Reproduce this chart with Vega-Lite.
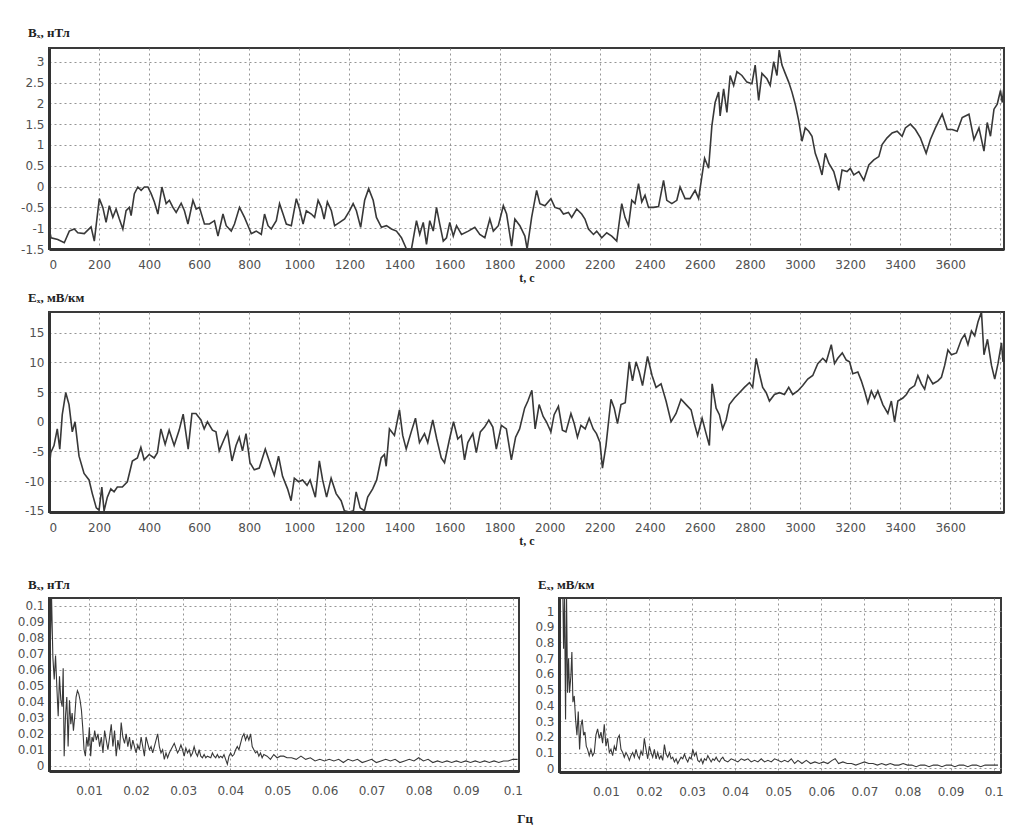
{
  "$schema": "https://vega.github.io/schema/vega-lite/v6.json",
  "padding": {"left": 12, "top": 26, "right": 5, "bottom": 2},
  "background": "white",
  "datasets": {
    "bx": [
      {"t":0,"v":-0.98},{"t":8,"v":-1.23},{"t":35,"v":-1.27},{"t":61,"v":-1.35},{"t":81,"v":-1.07},{"t":101,"v":-1.02},{"t":115,"v":-1.11},{"t":141,"v":-1.13},{"t":168,"v":-0.97},{"t":181,"v":-1.31},{"t":201,"v":-0.29},{"t":215,"v":-0.5},{"t":228,"v":-0.86},{"t":241,"v":-0.46},{"t":255,"v":-0.74},{"t":268,"v":-0.54},{"t":281,"v":-0.78},{"t":295,"v":-1.02},{"t":308,"v":-0.58},{"t":321,"v":-0.5},{"t":328,"v":-0.7},{"t":341,"v":-0.17},{"t":355,"v":-0.01},{"t":368,"v":-0.09},{"t":381,"v":-0.01},{"t":395,"v":-0.01},{"t":408,"v":-0.17},{"t":421,"v":-0.37},{"t":435,"v":-0.66},{"t":451,"v":-0.01},{"t":468,"v":-0.41},{"t":481,"v":-0.33},{"t":495,"v":-0.5},{"t":508,"v":-0.62},{"t":528,"v":-0.4},{"t":541,"v":-0.58},{"t":555,"v":-0.9},{"t":575,"v":-0.33},{"t":588,"v":-0.54},{"t":601,"v":-0.5},{"t":621,"v":-0.9},{"t":641,"v":-0.9},{"t":661,"v":-0.82},{"t":675,"v":-1.19},{"t":695,"v":-0.66},{"t":708,"v":-0.94},{"t":728,"v":-1.07},{"t":741,"v":-0.9},{"t":761,"v":-0.5},{"t":781,"v":-0.74},{"t":795,"v":-0.94},{"t":808,"v":-1.13},{"t":828,"v":-1.07},{"t":848,"v":-1.15},{"t":861,"v":-0.66},{"t":875,"v":-0.94},{"t":888,"v":-1.02},{"t":908,"v":-0.82},{"t":921,"v":-0.41},{"t":935,"v":-0.66},{"t":948,"v":-0.9},{"t":968,"v":-0.94},{"t":988,"v":-0.29},{"t":1001,"v":-0.54},{"t":1015,"v":-0.9},{"t":1028,"v":-0.58},{"t":1048,"v":-0.66},{"t":1061,"v":-0.74},{"t":1075,"v":-0.33},{"t":1088,"v":-0.5},{"t":1099,"v":-0.78},{"t":1112,"v":-0.37},{"t":1128,"v":-0.58},{"t":1141,"v":-0.94},{"t":1161,"v":-0.86},{"t":1181,"v":-0.78},{"t":1201,"v":-0.58},{"t":1215,"v":-0.41},{"t":1228,"v":-0.58},{"t":1245,"v":-0.98},{"t":1261,"v":-0.33},{"t":1277,"v":-0.05},{"t":1295,"v":-0.33},{"t":1308,"v":-0.74},{"t":1328,"v":-0.98},{"t":1348,"v":-0.94},{"t":1368,"v":-1.02},{"t":1388,"v":-1.07},{"t":1408,"v":-1.23},{"t":1428,"v":-1.5},{"t":1448,"v":-1.5},{"t":1468,"v":-0.82},{"t":1481,"v":-1.15},{"t":1495,"v":-0.86},{"t":1508,"v":-1.39},{"t":1521,"v":-0.82},{"t":1535,"v":-1.07},{"t":1548,"v":-0.5},{"t":1561,"v":-0.9},{"t":1575,"v":-1.31},{"t":1588,"v":-1.23},{"t":1601,"v":-0.86},{"t":1615,"v":-1.19},{"t":1628,"v":-0.94},{"t":1648,"v":-1.15},{"t":1675,"v":-1.07},{"t":1701,"v":-0.98},{"t":1721,"v":-1.15},{"t":1741,"v":-1.23},{"t":1761,"v":-0.78},{"t":1775,"v":-1.07},{"t":1795,"v":-0.94},{"t":1815,"v":-0.46},{"t":1828,"v":-0.66},{"t":1848,"v":-1.43},{"t":1861,"v":-0.78},{"t":1881,"v":-0.94},{"t":1901,"v":-1.19},{"t":1910,"v":-1.5},{"t":1928,"v":-0.74},{"t":1948,"v":-0.09},{"t":1961,"v":-0.41},{"t":1981,"v":-0.46},{"t":2005,"v":-0.29},{"t":2021,"v":-0.5},{"t":2041,"v":-0.54},{"t":2055,"v":-0.66},{"t":2075,"v":-0.62},{"t":2088,"v":-0.74},{"t":2108,"v":-0.54},{"t":2128,"v":-0.66},{"t":2141,"v":-0.78},{"t":2155,"v":-1.02},{"t":2175,"v":-1.15},{"t":2188,"v":-1.07},{"t":2208,"v":-1.23},{"t":2228,"v":-1.11},{"t":2248,"v":-1.19},{"t":2268,"v":-1.31},{"t":2288,"v":-0.41},{"t":2301,"v":-0.74},{"t":2315,"v":-0.94},{"t":2328,"v":-0.33},{"t":2341,"v":-0.41},{"t":2355,"v":0.07},{"t":2368,"v":-0.37},{"t":2381,"v":-0.21},{"t":2395,"v":-0.5},{"t":2415,"v":-0.5},{"t":2435,"v":-0.48},{"t":2455,"v":0.15},{"t":2468,"v":-0.33},{"t":2488,"v":-0.41},{"t":2508,"v":-0.33},{"t":2521,"v":-0.01},{"t":2541,"v":-0.29},{"t":2561,"v":-0.29},{"t":2581,"v":-0.09},{"t":2595,"v":-0.29},{"t":2608,"v":0.24},{"t":2619,"v":0.68},{"t":2635,"v":0.44},{"t":2648,"v":1.46},{"t":2661,"v":2.02},{"t":2675,"v":2.27},{"t":2681,"v":1.7},{"t":2695,"v":2.35},{"t":2708,"v":1.78},{"t":2721,"v":2.67},{"t":2735,"v":2.43},{"t":2748,"v":2.76},{"t":2768,"v":2.67},{"t":2788,"v":2.51},{"t":2808,"v":2.47},{"t":2821,"v":2.92},{"t":2835,"v":2.07},{"t":2848,"v":2.72},{"t":2868,"v":2.59},{"t":2881,"v":2.43},{"t":2895,"v":3.0},{"t":2908,"v":2.67},{"t":2917,"v":3.28},{"t":2928,"v":2.92},{"t":2941,"v":2.72},{"t":2955,"v":2.51},{"t":2968,"v":2.27},{"t":2981,"v":1.98},{"t":2995,"v":1.58},{"t":3008,"v":1.09},{"t":3021,"v":1.41},{"t":3035,"v":1.33},{"t":3048,"v":1.21},{"t":3061,"v":0.8},{"t":3075,"v":0.56},{"t":3088,"v":0.28},{"t":3101,"v":0.8},{"t":3115,"v":0.56},{"t":3135,"v":0.36},{"t":3155,"v":-0.09},{"t":3168,"v":0.4},{"t":3188,"v":0.36},{"t":3201,"v":0.44},{"t":3215,"v":0.28},{"t":3235,"v":0.36},{"t":3255,"v":0.15},{"t":3275,"v":0.52},{"t":3295,"v":0.64},{"t":3315,"v":0.72},{"t":3328,"v":1.01},{"t":3348,"v":1.17},{"t":3368,"v":1.29},{"t":3388,"v":1.33},{"t":3408,"v":1.21},{"t":3421,"v":1.41},{"t":3441,"v":1.5},{"t":3461,"v":1.37},{"t":3481,"v":1.17},{"t":3504,"v":0.8},{"t":3521,"v":1.13},{"t":3541,"v":1.41},{"t":3568,"v":1.74},{"t":3588,"v":1.37},{"t":3608,"v":1.37},{"t":3628,"v":1.33},{"t":3648,"v":1.66},{"t":3675,"v":1.74},{"t":3695,"v":1.13},{"t":3715,"v":1.41},{"t":3735,"v":0.85},{"t":3748,"v":1.54},{"t":3761,"v":1.21},{"t":3775,"v":1.86},{"t":3788,"v":1.98},{"t":3801,"v":2.31},{"t":3808,"v":2.02},{"t":3815,"v":2.39}
    ],
    "ex": [
      {"t":0,"v":-8.4},{"t":7,"v":-5.2},{"t":20,"v":-4.0},{"t":33,"v":-1.2},{"t":43,"v":-4.6},{"t":53,"v":1.2},{"t":67,"v":4.9},{"t":80,"v":2.9},{"t":93,"v":-1.7},{"t":104,"v":0},{"t":120,"v":-5.8},{"t":140,"v":-8.7},{"t":160,"v":-9.8},{"t":173,"v":-12.1},{"t":189,"v":-14.5},{"t":200,"v":-14.9},{"t":211,"v":-11.0},{"t":220,"v":-15.0},{"t":233,"v":-12.7},{"t":247,"v":-11.3},{"t":260,"v":-11.8},{"t":273,"v":-11.0},{"t":293,"v":-11.0},{"t":313,"v":-10.1},{"t":333,"v":-6.6},{"t":353,"v":-6.1},{"t":367,"v":-4.3},{"t":380,"v":-6.4},{"t":400,"v":-5.5},{"t":420,"v":-6.1},{"t":433,"v":-5.2},{"t":447,"v":-1.2},{"t":464,"v":-3.8},{"t":480,"v":-1.4},{"t":500,"v":-4.0},{"t":520,"v":-1.4},{"t":536,"v":1.3},{"t":556,"v":-4.6},{"t":571,"v":1.4},{"t":587,"v":1.4},{"t":607,"v":0.3},{"t":620,"v":-1.2},{"t":633,"v":0},{"t":653,"v":-1.4},{"t":667,"v":-1.7},{"t":680,"v":-4.9},{"t":700,"v":-2.9},{"t":713,"v":-1.7},{"t":731,"v":-6.6},{"t":747,"v":-4.0},{"t":760,"v":-2.6},{"t":773,"v":-4.9},{"t":787,"v":-2.0},{"t":803,"v":-6.9},{"t":820,"v":-8.1},{"t":840,"v":-7.8},{"t":864,"v":-4.6},{"t":887,"v":-7.5},{"t":900,"v":-9.0},{"t":917,"v":-5.8},{"t":933,"v":-9.2},{"t":953,"v":-11.3},{"t":967,"v":-13.3},{"t":980,"v":-9.5},{"t":997,"v":-10.1},{"t":1013,"v":-9.8},{"t":1031,"v":-10.7},{"t":1043,"v":-9.8},{"t":1064,"v":-12.7},{"t":1080,"v":-6.6},{"t":1093,"v":-9.8},{"t":1109,"v":-12.7},{"t":1127,"v":-9.5},{"t":1147,"v":-12.1},{"t":1167,"v":-13.3},{"t":1180,"v":-15.0},{"t":1200,"v":-15.2},{"t":1216,"v":-15.0},{"t":1227,"v":-11.8},{"t":1243,"v":-14.5},{"t":1260,"v":-15.0},{"t":1273,"v":-12.7},{"t":1293,"v":-11.3},{"t":1309,"v":-9.8},{"t":1327,"v":-6.1},{"t":1340,"v":-5.5},{"t":1347,"v":-7.5},{"t":1360,"v":-1.2},{"t":1380,"v":-2.3},{"t":1400,"v":2.0},{"t":1413,"v":-2.3},{"t":1427,"v":-4.6},{"t":1447,"v":-1.7},{"t":1464,"v":0.6},{"t":1480,"v":-3.5},{"t":1500,"v":-2.0},{"t":1513,"v":-3.5},{"t":1533,"v":0.3},{"t":1549,"v":-2.9},{"t":1567,"v":-6.1},{"t":1580,"v":-6.9},{"t":1600,"v":-2.9},{"t":1616,"v":0},{"t":1633,"v":-2.9},{"t":1647,"v":-2.3},{"t":1660,"v":-6.4},{"t":1673,"v":-3.5},{"t":1693,"v":-2.0},{"t":1707,"v":-5.2},{"t":1723,"v":-1.7},{"t":1740,"v":-0.9},{"t":1757,"v":0.3},{"t":1773,"v":-0.9},{"t":1787,"v":-4.6},{"t":1807,"v":-0.6},{"t":1827,"v":-1.2},{"t":1847,"v":-6.4},{"t":1864,"v":-2.6},{"t":1880,"v":-1.2},{"t":1900,"v":2.3},{"t":1913,"v":3.5},{"t":1929,"v":5.3},{"t":1942,"v":-1.2},{"t":1958,"v":2.9},{"t":1974,"v":0.9},{"t":1987,"v":0},{"t":2005,"v":-1.7},{"t":2018,"v":1.2},{"t":2035,"v":2.6},{"t":2051,"v":-1.4},{"t":2065,"v":-1.7},{"t":2085,"v":1.4},{"t":2098,"v":-0.3},{"t":2111,"v":-2.6},{"t":2125,"v":-0.6},{"t":2142,"v":-1.2},{"t":2158,"v":0.6},{"t":2174,"v":-1.2},{"t":2187,"v":-2.0},{"t":2201,"v":-3.5},{"t":2211,"v":-7.8},{"t":2225,"v":-4.0},{"t":2245,"v":3.8},{"t":2258,"v":2.3},{"t":2271,"v":-0.3},{"t":2285,"v":2.9},{"t":2302,"v":3.2},{"t":2318,"v":10.1},{"t":2331,"v":6.9},{"t":2345,"v":10.1},{"t":2358,"v":8.4},{"t":2371,"v":6.1},{"t":2391,"v":11.0},{"t":2409,"v":7.8},{"t":2425,"v":5.8},{"t":2445,"v":6.4},{"t":2465,"v":3.5},{"t":2485,"v":0},{"t":2505,"v":1.4},{"t":2525,"v":3.8},{"t":2545,"v":2.9},{"t":2565,"v":2.0},{"t":2578,"v":-0.3},{"t":2591,"v":-2.3},{"t":2609,"v":0.6},{"t":2625,"v":-2.0},{"t":2638,"v":-4.0},{"t":2649,"v":6.4},{"t":2665,"v":2.3},{"t":2678,"v":1.2},{"t":2691,"v":-1.2},{"t":2705,"v":0.3},{"t":2718,"v":2.9},{"t":2738,"v":4.0},{"t":2758,"v":4.9},{"t":2778,"v":5.8},{"t":2798,"v":6.6},{"t":2811,"v":5.8},{"t":2825,"v":10.7},{"t":2838,"v":8.1},{"t":2851,"v":5.8},{"t":2865,"v":4.9},{"t":2878,"v":3.5},{"t":2898,"v":4.6},{"t":2918,"v":4.9},{"t":2938,"v":4.6},{"t":2955,"v":5.8},{"t":2971,"v":4.6},{"t":2991,"v":5.2},{"t":3011,"v":6.1},{"t":3031,"v":7.2},{"t":3051,"v":7.8},{"t":3071,"v":9.8},{"t":3091,"v":10.7},{"t":3105,"v":10.1},{"t":3125,"v":13.0},{"t":3138,"v":9.8},{"t":3151,"v":10.7},{"t":3169,"v":11.6},{"t":3185,"v":10.4},{"t":3198,"v":10.1},{"t":3211,"v":8.1},{"t":3231,"v":8.4},{"t":3245,"v":6.9},{"t":3258,"v":5.2},{"t":3271,"v":3.2},{"t":3285,"v":5.2},{"t":3298,"v":4.0},{"t":3311,"v":5.2},{"t":3331,"v":2.9},{"t":3351,"v":1.4},{"t":3365,"v":3.5},{"t":3378,"v":0},{"t":3391,"v":3.5},{"t":3411,"v":4.0},{"t":3425,"v":4.6},{"t":3438,"v":5.5},{"t":3458,"v":6.1},{"t":3471,"v":7.8},{"t":3485,"v":6.4},{"t":3498,"v":5.5},{"t":3511,"v":7.8},{"t":3531,"v":6.4},{"t":3551,"v":6.9},{"t":3565,"v":7.5},{"t":3578,"v":9.5},{"t":3591,"v":12.1},{"t":3605,"v":11.3},{"t":3625,"v":11.6},{"t":3645,"v":13.9},{"t":3658,"v":14.7},{"t":3671,"v":13.0},{"t":3685,"v":15.3},{"t":3698,"v":14.5},{"t":3711,"v":16.8},{"t":3725,"v":18.5},{"t":3735,"v":11.3},{"t":3749,"v":13.9},{"t":3765,"v":9.5},{"t":3778,"v":7.2},{"t":3791,"v":9.8},{"t":3805,"v":13.3},{"t":3811,"v":10.1}
    ],
    "bxs": [
      {"f":0.00148,"v":0.106},{"f":0.00176,"v":0.072},{"f":0.00204,"v":0.106},{"f":0.00232,"v":0.068},{"f":0.00261,"v":0.054},{"f":0.00289,"v":0.069},{"f":0.00317,"v":0.049},{"f":0.00345,"v":0.031},{"f":0.00373,"v":0.056},{"f":0.00401,"v":0.041},{"f":0.0043,"v":0.037},{"f":0.00451,"v":0.061},{"f":0.00472,"v":0.006},{"f":0.005,"v":0.031},{"f":0.00528,"v":0.043},{"f":0.00556,"v":0.012},{"f":0.00585,"v":0.041},{"f":0.00613,"v":0.026},{"f":0.00641,"v":0.033},{"f":0.00669,"v":0.022},{"f":0.00697,"v":0.031},{"f":0.00725,"v":0.043},{"f":0.00754,"v":0.047},{"f":0.00782,"v":0.045},{"f":0.0081,"v":0.041},{"f":0.00838,"v":0.035},{"f":0.00866,"v":0.024},{"f":0.00894,"v":0.01},{"f":0.00923,"v":0.006},{"f":0.00951,"v":0.018},{"f":0.00979,"v":0.012},{"f":0.01007,"v":0.024},{"f":0.01035,"v":0.006},{"f":0.01063,"v":0.018},{"f":0.01092,"v":0.015},{"f":0.0112,"v":0.022},{"f":0.01155,"v":0.016},{"f":0.0119,"v":0.02},{"f":0.01225,"v":0.012},{"f":0.01261,"v":0.018},{"f":0.01296,"v":0.008},{"f":0.01331,"v":0.022},{"f":0.01366,"v":0.016},{"f":0.01401,"v":0.01},{"f":0.01437,"v":0.018},{"f":0.01472,"v":0.026},{"f":0.01507,"v":0.012},{"f":0.01542,"v":0.022},{"f":0.01577,"v":0.006},{"f":0.01613,"v":0.016},{"f":0.01648,"v":0.01},{"f":0.01683,"v":0.027},{"f":0.01718,"v":0.018},{"f":0.01754,"v":0.014},{"f":0.01789,"v":0.02},{"f":0.01824,"v":0.012},{"f":0.01859,"v":0.018},{"f":0.01894,"v":0.01},{"f":0.0193,"v":0.016},{"f":0.01965,"v":0.012},{"f":0.02,"v":0.008},{"f":0.02035,"v":0.013},{"f":0.0207,"v":0.01},{"f":0.02106,"v":0.018},{"f":0.02141,"v":0.012},{"f":0.02176,"v":0.006},{"f":0.02211,"v":0.018},{"f":0.02246,"v":0.014},{"f":0.02282,"v":0.01},{"f":0.02317,"v":0.012},{"f":0.02352,"v":0.008},{"f":0.02387,"v":0.012},{"f":0.02423,"v":0.016},{"f":0.02458,"v":0.02},{"f":0.02493,"v":0.012},{"f":0.02528,"v":0.008},{"f":0.02563,"v":0.01},{"f":0.02599,"v":0.004},{"f":0.02634,"v":0.008},{"f":0.02669,"v":0.005},{"f":0.02704,"v":0.008},{"f":0.02739,"v":0.01},{"f":0.02775,"v":0.012},{"f":0.0281,"v":0.014},{"f":0.02845,"v":0.011},{"f":0.0288,"v":0.008},{"f":0.02915,"v":0.01},{"f":0.02951,"v":0.013},{"f":0.02986,"v":0.01},{"f":0.03021,"v":0.006},{"f":0.03056,"v":0.011},{"f":0.03092,"v":0.008},{"f":0.03127,"v":0.01},{"f":0.03162,"v":0.006},{"f":0.03197,"v":0.008},{"f":0.03232,"v":0.012},{"f":0.03268,"v":0.008},{"f":0.03303,"v":0.006},{"f":0.03338,"v":0.01},{"f":0.03373,"v":0.006},{"f":0.03408,"v":0.005},{"f":0.03444,"v":0.007},{"f":0.03479,"v":0.005},{"f":0.03514,"v":0.006},{"f":0.03585,"v":0.005},{"f":0.0362,"v":0.008},{"f":0.03655,"v":0.006},{"f":0.0369,"v":0.005},{"f":0.03725,"v":0.007},{"f":0.03761,"v":0.005},{"f":0.03796,"v":0.006},{"f":0.03831,"v":0.005},{"f":0.03866,"v":0.007},{"f":0.03901,"v":0.004},{"f":0.03937,"v":0.001},{"f":0.03972,"v":0.006},{"f":0.04007,"v":0.008},{"f":0.04042,"v":0.006},{"f":0.04077,"v":0.007},{"f":0.04113,"v":0.01},{"f":0.04148,"v":0.012},{"f":0.04183,"v":0.01},{"f":0.04218,"v":0.014},{"f":0.04254,"v":0.018},{"f":0.04289,"v":0.02},{"f":0.04324,"v":0.016},{"f":0.04359,"v":0.019},{"f":0.04394,"v":0.016},{"f":0.0443,"v":0.02},{"f":0.04465,"v":0.012},{"f":0.045,"v":0.01},{"f":0.04535,"v":0.008},{"f":0.0457,"v":0.009},{"f":0.04606,"v":0.006},{"f":0.04641,"v":0.008},{"f":0.04676,"v":0.005},{"f":0.04711,"v":0.007},{"f":0.04782,"v":0.006},{"f":0.04852,"v":0.004},{"f":0.04923,"v":0.007},{"f":0.04993,"v":0.005},{"f":0.05063,"v":0.006},{"f":0.05134,"v":0.006},{"f":0.05204,"v":0.005},{"f":0.053,"v":0.005},{"f":0.054,"v":0.004},{"f":0.055,"v":0.006},{"f":0.056,"v":0.004},{"f":0.057,"v":0.005},{"f":0.058,"v":0.003},{"f":0.059,"v":0.004},{"f":0.06,"v":0.003},{"f":0.061,"v":0.004},{"f":0.062,"v":0.003},{"f":0.063,"v":0.004},{"f":0.064,"v":0.002},{"f":0.065,"v":0.004},{"f":0.066,"v":0.003},{"f":0.067,"v":0.004},{"f":0.068,"v":0.002},{"f":0.069,"v":0.003},{"f":0.07,"v":0.004},{"f":0.071,"v":0.002},{"f":0.072,"v":0.003},{"f":0.073,"v":0.004},{"f":0.074,"v":0.003},{"f":0.075,"v":0.004},{"f":0.076,"v":0.002},{"f":0.077,"v":0.003},{"f":0.078,"v":0.004},{"f":0.079,"v":0.003},{"f":0.08,"v":0.005},{"f":0.081,"v":0.003},{"f":0.082,"v":0.004},{"f":0.083,"v":0.002},{"f":0.084,"v":0.003},{"f":0.085,"v":0.002},{"f":0.086,"v":0.003},{"f":0.087,"v":0.002},{"f":0.088,"v":0.003},{"f":0.089,"v":0.002},{"f":0.09,"v":0.003},{"f":0.091,"v":0.002},{"f":0.092,"v":0.003},{"f":0.093,"v":0.002},{"f":0.094,"v":0.003},{"f":0.095,"v":0.002},{"f":0.096,"v":0.003},{"f":0.097,"v":0.002},{"f":0.098,"v":0.003},{"f":0.099,"v":0.003},{"f":0.1,"v":0.004},{"f":0.101,"v":0.004}
    ],
    "exs": [
      {"f":0.0,"v":1.1},{"f":0.00016,"v":0.76},{"f":0.00039,"v":1.1},{"f":0.00062,"v":0.31},{"f":0.00085,"v":1.1},{"f":0.00109,"v":0.48},{"f":0.00132,"v":0.7},{"f":0.00155,"v":0.48},{"f":0.00186,"v":0.59},{"f":0.00209,"v":0.74},{"f":0.00233,"v":0.42},{"f":0.00264,"v":0.46},{"f":0.00295,"v":0.31},{"f":0.00326,"v":0.21},{"f":0.00357,"v":0.36},{"f":0.00388,"v":0.12},{"f":0.00419,"v":0.27},{"f":0.0045,"v":0.31},{"f":0.00481,"v":0.21},{"f":0.00512,"v":0.23},{"f":0.00543,"v":0.14},{"f":0.00574,"v":0.12},{"f":0.00612,"v":0.08},{"f":0.00651,"v":0.12},{"f":0.0069,"v":0.08},{"f":0.00729,"v":0.1},{"f":0.00767,"v":0.21},{"f":0.00806,"v":0.25},{"f":0.00845,"v":0.19},{"f":0.00884,"v":0.23},{"f":0.00922,"v":0.16},{"f":0.00961,"v":0.28},{"f":0.01,"v":0.14},{"f":0.01039,"v":0.19},{"f":0.01078,"v":0.1},{"f":0.01116,"v":0.12},{"f":0.01155,"v":0.08},{"f":0.01194,"v":0.14},{"f":0.01233,"v":0.11},{"f":0.01271,"v":0.19},{"f":0.0131,"v":0.21},{"f":0.01349,"v":0.12},{"f":0.01388,"v":0.1},{"f":0.01426,"v":0.07},{"f":0.01465,"v":0.1},{"f":0.01504,"v":0.08},{"f":0.01543,"v":0.05},{"f":0.01581,"v":0.08},{"f":0.0162,"v":0.1},{"f":0.01659,"v":0.07},{"f":0.01698,"v":0.12},{"f":0.01736,"v":0.08},{"f":0.01775,"v":0.06},{"f":0.01814,"v":0.11},{"f":0.01853,"v":0.08},{"f":0.01891,"v":0.19},{"f":0.0193,"v":0.12},{"f":0.01969,"v":0.06},{"f":0.02008,"v":0.14},{"f":0.02047,"v":0.1},{"f":0.02085,"v":0.07},{"f":0.02124,"v":0.12},{"f":0.02163,"v":0.06},{"f":0.02202,"v":0.1},{"f":0.0224,"v":0.06},{"f":0.02279,"v":0.08},{"f":0.02318,"v":0.05},{"f":0.02357,"v":0.15},{"f":0.02395,"v":0.09},{"f":0.02434,"v":0.07},{"f":0.02473,"v":0.1},{"f":0.02512,"v":0.06},{"f":0.0255,"v":0.07},{"f":0.02589,"v":0.04},{"f":0.02628,"v":0.06},{"f":0.02667,"v":0.03},{"f":0.02705,"v":0.05},{"f":0.02744,"v":0.07},{"f":0.02783,"v":0.06},{"f":0.02822,"v":0.09},{"f":0.0286,"v":0.06},{"f":0.02899,"v":0.04},{"f":0.02938,"v":0.07},{"f":0.02977,"v":0.06},{"f":0.03016,"v":0.12},{"f":0.03054,"v":0.08},{"f":0.03093,"v":0.1},{"f":0.03132,"v":0.05},{"f":0.03171,"v":0.04},{"f":0.03209,"v":0.06},{"f":0.03248,"v":0.03},{"f":0.03287,"v":0.06},{"f":0.03326,"v":0.05},{"f":0.03364,"v":0.08},{"f":0.03403,"v":0.06},{"f":0.03442,"v":0.04},{"f":0.03481,"v":0.06},{"f":0.03519,"v":0.05},{"f":0.03558,"v":0.07},{"f":0.03597,"v":0.05},{"f":0.03636,"v":0.04},{"f":0.03674,"v":0.06},{"f":0.03713,"v":0.07},{"f":0.03752,"v":0.05},{"f":0.03829,"v":0.04},{"f":0.03907,"v":0.06},{"f":0.03984,"v":0.05},{"f":0.04062,"v":0.04},{"f":0.0414,"v":0.06},{"f":0.04217,"v":0.05},{"f":0.04295,"v":0.06},{"f":0.04372,"v":0.04},{"f":0.0445,"v":0.05},{"f":0.04527,"v":0.04},{"f":0.04605,"v":0.06},{"f":0.04682,"v":0.04},{"f":0.0476,"v":0.05},{"f":0.04837,"v":0.04},{"f":0.04915,"v":0.06},{"f":0.04992,"v":0.05},{"f":0.0507,"v":0.04},{"f":0.05147,"v":0.05},{"f":0.05225,"v":0.04},{"f":0.05302,"v":0.06},{"f":0.0538,"v":0.03},{"f":0.05457,"v":0.05},{"f":0.0555,"v":0.03},{"f":0.0565,"v":0.05},{"f":0.0575,"v":0.03},{"f":0.0585,"v":0.04},{"f":0.0595,"v":0.03},{"f":0.0605,"v":0.04},{"f":0.0615,"v":0.03},{"f":0.0625,"v":0.05},{"f":0.0632,"v":0.06},{"f":0.064,"v":0.03},{"f":0.065,"v":0.04},{"f":0.066,"v":0.03},{"f":0.067,"v":0.03},{"f":0.068,"v":0.02},{"f":0.069,"v":0.03},{"f":0.07,"v":0.04},{"f":0.071,"v":0.03},{"f":0.072,"v":0.03},{"f":0.073,"v":0.02},{"f":0.074,"v":0.03},{"f":0.075,"v":0.02},{"f":0.076,"v":0.03},{"f":0.077,"v":0.02},{"f":0.078,"v":0.02},{"f":0.079,"v":0.03},{"f":0.08,"v":0.02},{"f":0.081,"v":0.02},{"f":0.082,"v":0.01},{"f":0.083,"v":0.02},{"f":0.084,"v":0.02},{"f":0.085,"v":0.01},{"f":0.086,"v":0.02},{"f":0.087,"v":0.02},{"f":0.088,"v":0.01},{"f":0.089,"v":0.02},{"f":0.09,"v":0.02},{"f":0.091,"v":0.01},{"f":0.092,"v":0.02},{"f":0.093,"v":0.02},{"f":0.094,"v":0.01},{"f":0.095,"v":0.02},{"f":0.096,"v":0.02},{"f":0.097,"v":0.01},{"f":0.098,"v":0.02},{"f":0.099,"v":0.02},{"f":0.1,"v":0.02},{"f":0.101,"v":0.02}
    ]
  },
  "vconcat": [
    {
      "spacing": 7,
      "vconcat": [
        {
          "width": 955, "height": 201,
          "title": {"text": "Bₓ, нТл", "dx": 15, "offset": 8},
          "data": {"name": "bx"},
          "mark": {"type": "line", "color": "#383838", "strokeWidth": 1.6, "clip": true},
          "encoding": {
            "x": {"field": "t", "type": "quantitative", "scale": {"domain": [0, 3815], "nice": false, "zero": false},
                  "axis": {"title": "t, с", "titlePadding": 2, "values": [0,200,400,600,800,1000,1200,1400,1600,1800,2000,2200,2400,2600,2800,3000,3200,3400,3600,3800], "format": "d", "labelExpr": "datum.value == 3800 ? '' : datum.label"}},
            "y": {"field": "v", "type": "quantitative", "scale": {"domain": [-1.5, 3.33], "nice": false, "zero": false},
                  "axis": {"title": null, "values": [-1.5,-1,-0.5,0,0.5,1,1.5,2,2.5,3], "labelExpr": "datum.value < 0 ? '-' + format(-datum.value, '~g') : format(datum.value, '~g')", "minExtent": 36, "maxExtent": 36}}
          }
        },
        {
          "width": 955, "height": 200,
          "title": {"text": "Eₓ, мВ/км", "dx": 15, "offset": 7},
          "data": {"name": "ex"},
          "mark": {"type": "line", "color": "#383838", "strokeWidth": 1.6, "clip": true},
          "encoding": {
            "x": {"field": "t", "type": "quantitative", "scale": {"domain": [0, 3815], "nice": false, "zero": false},
                  "axis": {"title": "t, с", "titlePadding": 2, "values": [0,200,400,600,800,1000,1200,1400,1600,1800,2000,2200,2400,2600,2800,3000,3200,3400,3600,3800], "format": "d", "labelExpr": "datum.value == 3800 ? '' : datum.label"}},
            "y": {"field": "v", "type": "quantitative", "scale": {"domain": [-15.2, 18.5], "nice": false, "zero": false},
                  "axis": {"title": null, "values": [-15,-10,-5,0,5,10,15], "labelExpr": "datum.value < 0 ? '-' + format(-datum.value, '~g') : format(datum.value, '~g')", "minExtent": 36, "maxExtent": 36}}
          }
        }
      ]
    },
    {
      "hconcat": [
        {
          "width": 470, "height": 173,
          "title": {"text": "Bₓ, нТл", "dx": 15, "offset": 6},
          "data": {"name": "bxs"},
          "mark": {"type": "line", "color": "#383838", "strokeWidth": 1.1, "clip": true},
          "encoding": {
            "x": {"field": "f", "type": "quantitative", "scale": {"domain": [0.0015, 0.1013], "nice": false, "zero": false},
                  "axis": {"title": null, "labelPadding": 14, "values": [0.01,0.02,0.03,0.04,0.05,0.06,0.07,0.08,0.09,0.1], "format": "~g"}},
            "y": {"field": "v", "type": "quantitative", "scale": {"domain": [-0.0033, 0.105], "nice": false, "zero": false},
                  "axis": {"title": null, "values": [0,0.01,0.02,0.03,0.04,0.05,0.06,0.07,0.08,0.09,0.1], "format": "~g", "minExtent": 36, "maxExtent": 36}}
          }
        },
        {
          "width": 442, "height": 174,
          "title": {"text": "Eₓ, мВ/км", "dx": 13, "offset": 6},
          "data": {"name": "exs"},
          "mark": {"type": "line", "color": "#383838", "strokeWidth": 1.1, "clip": true},
          "encoding": {
            "x": {"field": "f", "type": "quantitative", "scale": {"domain": [-0.0009, 0.1017], "nice": false, "zero": false},
                  "axis": {"title": null, "labelPadding": 14, "values": [0.01,0.02,0.03,0.04,0.05,0.06,0.07,0.08,0.09,0.1], "format": "~g"}},
            "y": {"field": "v", "type": "quantitative", "scale": {"domain": [-0.024, 1.083], "nice": false, "zero": false},
                  "axis": {"title": null, "values": [0,0.1,0.2,0.3,0.4,0.5,0.6,0.7,0.8,0.9,1], "format": "~g", "minExtent": 34, "maxExtent": 34}}
          }
        }
      ],
      "spacing": 0,
      "title": {"text": "Гц", "orient": "bottom", "anchor": "middle", "offset": 15, "dx": 17}
    }
  ],
  "spacing": 31,
  "config": {
    "view": {"stroke": "#3a3a3a", "strokeWidth": 2},
    "axis": {
      "labelFont": "DejaVu Sans", "labelFontSize": 12, "labelColor": "#505050",
      "grid": true, "gridColor": "#8a8a8a", "gridDash": [2, 3], "gridWidth": 1, "gridOpacity": 0.9,
      "domain": true, "domainColor": "#333333", "domainWidth": 3,
      "ticks": false,
      "titleFont": "Liberation Serif", "titleFontWeight": "bold", "titleFontSize": 12, "titleColor": "#222222"
    },
    "axisX": {"labelAngle": 0, "labelOverlap": false, "labelPadding": 10},
    "axisY": {"labelPadding": 5},
    "title": {"font": "Liberation Serif", "fontSize": 13, "fontWeight": "bold", "color": "#222222", "anchor": "start", "frame": "bounds"}
  }
}
